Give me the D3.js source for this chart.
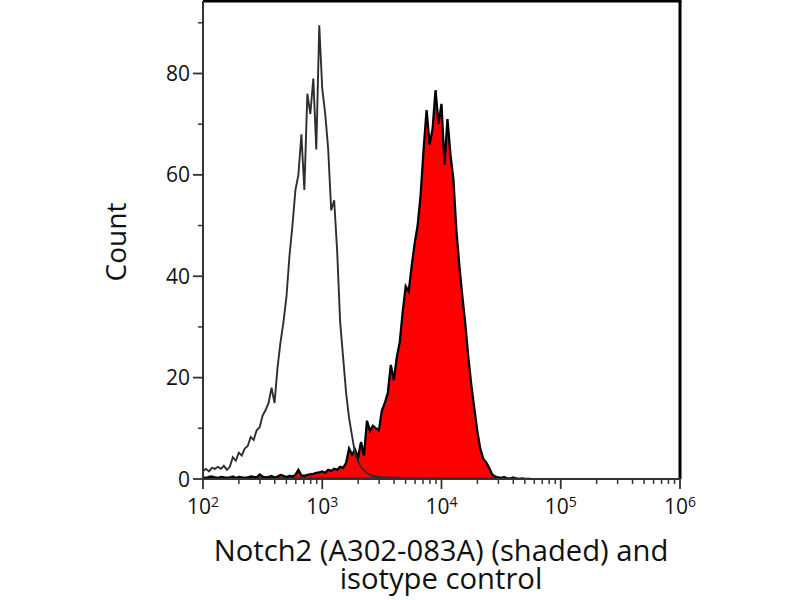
<!DOCTYPE html>
<html>
<head>
<meta charset="utf-8">
<script src="https://cdn.jsdelivr.net/npm/d3@7"></script>
<style>
    body { margin: 0; background: #fff; }
    text { font-family: "Open Sans", "Liberation Sans", sans-serif; fill: #111; }
</style>
</head>
<body>
<div id="chart"></div>
<script>

// histogram channels: log10 of fluorescence, 0.025 decade per channel, starting at 10^2
const channelStart = 2;
const channelStep = 0.025;

// isotype control counts per channel (open grey line)
const isotypeCounts = [
    1.6, 2.0, 1.5, 2.2, 2.0, 2.4, 2.0, 2.6, 1.8, 2.4,
    4.3, 3.6, 5.2, 4.6, 6.0, 6.5, 8.3, 7.7, 9.6, 10.2,
    12.5, 13.6, 15.0, 18, 15, 22, 27, 31, 36, 44,
    50, 57, 60, 68, 57, 76, 72, 79, 65, 89.5,
    77, 72, 65, 53, 55, 45, 31, 24, 17, 12,
    8.5, 5, 3.5, 2.4, 1.7, 1.2, 0.8, 0.6, 0.5, 0.4,
    0.3, 0.4, 0.2, 0.3, 0.2, 0.3, 0.2, 0.1, 0.2, 0.1,
    0.2, 0.1, 0.1, 0.2, 0.1, 0.1, 0, 0.1, 0, 0.1,
    0, 0, 0.1, 0, 0, 0, 0, 0, 0, 0
];

// Notch2 (A302-083A) counts per channel (red shaded)
const notchCounts = [
    0.3, 0.2, 0.4, 0.5, 0.3, 0.2, 0.4, 0.3, 0.2, 0.3,
    0.5, 0.2, 0.4, 0.3, 0.2, 0.3, 0.5, 0.4, 0.3, 0.9,
    0.5, 0.3, 0.4, 0.6, 0.3, 0.5, 0.8, 0.6, 0.4, 0.6,
    0.5, 0.8, 1.8, 0.7, 0.6, 0.8, 0.9, 1.0, 1.2, 1.3,
    1.5, 1.2, 1.8, 1.6, 2.0, 1.8, 2.4, 2.2, 3.2, 6.0,
    4.8, 5.8, 4.2, 7.3, 4.6, 11.5, 9.5, 10.5, 10.0, 9.6,
    13.5, 15, 17, 22.5, 19.5, 24, 27, 33, 38, 37,
    42, 46.5, 50, 56, 65, 72.8, 66, 69, 76.7, 70,
    74, 62, 71, 64, 59, 49, 42, 36, 30.5, 24,
    18.5, 14, 9.5, 6, 4, 3.3, 2.2, 0.9, 0.5, 0.3,
    0.2, 0.4, 0.1, 0.1, 0.3, 0.1, 0, 0.1, 0, 0, 0
];

const yTicks = [0, 20, 40, 60, 80];
const yMinorTicks = [10, 30, 50, 70, 90];
const xDecades = [2, 3, 4, 5, 6];
const xLabel = ["Notch2 (A302-083A) (shaded) and", "isotype control"];
const yLabel = "Count";

const width = 800, height = 600;
const plot = {left: 203, right: 680, top: 1, bottom: 479};

const svg = d3.select("#chart").append("svg")
    .attr("width", width)
    .attr("height", height);

const x = d3.scaleLog()
    .domain([100, 1e6])
    .range([plot.left, plot.right]);

const y = d3.scaleLinear()
    .domain([0, 94.3])
    .range([plot.bottom, plot.top]);

const toPoints = counts => counts.map((c, i) => ({
    v: Math.pow(10, channelStart + i * channelStep),
    c: c
}));

const notchData = toPoints(notchCounts);
const isoData = toPoints(isotypeCounts);

svg.append("defs").append("clipPath")
    .attr("id", "clip")
    .append("rect")
    .attr("x", plot.left)
    .attr("y", plot.top)
    .attr("width", plot.right - plot.left)
    .attr("height", plot.bottom - plot.top);

const g = svg.append("g").attr("clip-path", "url(#clip)");

const area = d3.area()
    .x(d => x(d.v))
    .y0(y(0))
    .y1(d => y(d.c));

const line = d3.line()
    .x(d => x(d.v))
    .y(d => y(d.c));

g.append("path")
    .datum(notchData)
    .attr("d", area)
    .attr("fill", "#ff0000")
    .attr("stroke", "#000")
    .attr("stroke-width", 2.3)
    .attr("stroke-linejoin", "miter");

g.append("path")
    .datum(isoData)
    .attr("d", line)
    .attr("fill", "none")
    .attr("stroke", "#2e2e2e")
    .attr("stroke-width", 1.9)
    .attr("stroke-linejoin", "miter");

// frame: top and right black, left and bottom axis lines
svg.append("line")
    .attr("x1", plot.left).attr("x2", plot.right + 1.5)
    .attr("y1", plot.top).attr("y2", plot.top)
    .attr("stroke", "#000").attr("stroke-width", 3);
svg.append("line")
    .attr("x1", plot.right).attr("x2", plot.right)
    .attr("y1", plot.top).attr("y2", plot.bottom)
    .attr("stroke", "#000").attr("stroke-width", 3);

// y axis
const yAxis = svg.append("g").attr("transform", "translate(" + plot.left + ",0)");
yAxis.append("line")
    .attr("y1", plot.top).attr("y2", plot.bottom + 1)
    .attr("stroke", "#333").attr("stroke-width", 2);
yAxis.selectAll(".ymaj")
    .data(yTicks)
    .enter().append("line")
    .attr("x1", -10).attr("x2", 0)
    .attr("y1", d => y(d)).attr("y2", d => y(d))
    .attr("stroke", "#333").attr("stroke-width", 1.8);
yAxis.selectAll(".ymin")
    .data(yMinorTicks)
    .enter().append("line")
    .attr("x1", -5).attr("x2", 0)
    .attr("y1", d => y(d)).attr("y2", d => y(d))
    .attr("stroke", "#333").attr("stroke-width", 1.5);
yAxis.selectAll(".ylab")
    .data(yTicks)
    .enter().append("text")
    .attr("x", -13)
    .attr("y", d => y(d))
    .attr("dy", "0.36em")
    .attr("text-anchor", "end")
    .style("font-size", "21px")
    .text(d => d);

// x axis
const xAxis = svg.append("g").attr("transform", "translate(0," + plot.bottom + ")");
xAxis.append("line")
    .attr("x1", plot.left - 1).attr("x2", plot.right + 1)
    .attr("stroke", "#333").attr("stroke-width", 2);

let minor = [];
xDecades.slice(0, -1).forEach(e => {
    for (let m = 2; m <= 9; m++) minor.push(m * Math.pow(10, e));
});
xAxis.selectAll(".xmin")
    .data(minor)
    .enter().append("line")
    .attr("x1", d => x(d)).attr("x2", d => x(d))
    .attr("y1", 0).attr("y2", 5)
    .attr("stroke", "#333").attr("stroke-width", 1.5);
xAxis.selectAll(".xmaj")
    .data(xDecades)
    .enter().append("line")
    .attr("x1", d => x(Math.pow(10, d))).attr("x2", d => x(Math.pow(10, d)))
    .attr("y1", 0).attr("y2", 10)
    .attr("stroke", "#333").attr("stroke-width", 1.8);

const xl = xAxis.selectAll(".xlab")
    .data(xDecades)
    .enter().append("text")
    .attr("x", d => x(Math.pow(10, d)))
    .attr("y", 35)
    .attr("text-anchor", "middle")
    .style("font-size", "21px");
xl.append("tspan").text("10");
xl.append("tspan")
    .attr("dy", "-0.5em")
    .style("font-size", "14px")
    .text(d => d);

// axis titles
svg.append("text")
    .attr("transform", "translate(126,242) rotate(-90)")
    .attr("text-anchor", "middle")
    .style("font-size", "28px")
    .text(yLabel);

const titles = svg.selectAll(".xtitle")
    .data(xLabel)
    .enter().append("text")
    .attr("x", 441)
    .attr("y", (d, i) => 561 + i * 28)
    .attr("text-anchor", "middle")
    .style("font-size", "27px")
    .text(d => d);

// fit first title line to the reference width (~455px)
const w0 = titles.nodes()[0].getComputedTextLength();
const fs = 27 * 455 / w0;
titles.style("font-size", Math.min(fs, 30) + "px");

</script>
</body>
</html>
